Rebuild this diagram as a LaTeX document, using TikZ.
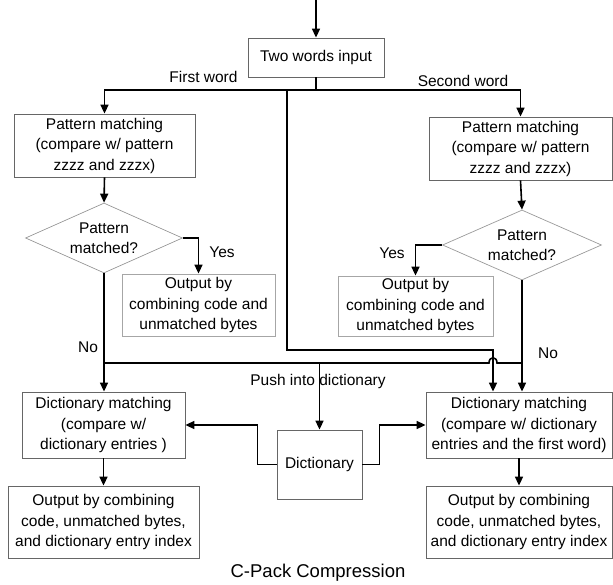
\documentclass[tikz,border=0pt]{standalone}
\usepackage{fontspec}
\setmainfont{Liberation Sans}
\usetikzlibrary{arrows.meta,shapes.geometric}
\begin{document}
\begin{tikzpicture}[x=1pt,y=-1pt,
  txt/.style={font=\fontsize{15.5}{20.5}\selectfont},
  box/.style={txt, draw=black!60, line width=0.8pt, rectangle, inner sep=0pt, align=center},
  ybox/.style={box, draw=black!35},
  dia/.style={txt, draw=black!40, line width=0.7pt, diamond, inner sep=0pt, align=center, aspect=2.24, minimum width=157pt, minimum height=70pt},
  lbl/.style={txt, inner sep=0pt},
  conn/.style={line width=1.6pt, draw=black},
  arr/.style={conn, -{Triangle[length=9pt,width=8pt]}}]
\useasboundingbox (0,0) rectangle (613,585);
% nodes
\coordinate (top) at (316,0);
\node[box, minimum width=136pt, minimum height=39pt] (inp) at (316,57.5) {Two words input};
\node[box, minimum width=181pt, minimum height=63pt] (pml) at (104.5,145.5) {Pattern matching\\(compare w/ pattern\\zzzz and zzzx)};
\node[box, minimum width=183pt, minimum height=63pt] (pmr) at (520.5,148.5) {Pattern matching\\(compare w/ pattern\\zzzz and zzzx)};
\node[dia] (dml) at (104,238) {Pattern\\matched?};
\node[dia, minimum width=159pt] (dmr) at (522,245) {Pattern\\matched?};
\node[ybox, minimum width=153pt, minimum height=62pt] (yl) at (198.5,305) {Output by\\combining code and\\unmatched bytes};
\node[ybox, minimum width=155pt, minimum height=60pt] (yr) at (415.5,306) {Output by\\combining code and\\unmatched bytes};
\node[box, minimum width=163pt, minimum height=66pt] (dicl) at (103.5,425) {Dictionary matching\\(compare w/\\dictionary entries )};
\node[box, minimum width=186pt, minimum height=66pt] (dicr) at (519,425) {Dictionary matching\\(compare w/ dictionary\\entries and the first word)};
\node[box, minimum width=85pt, minimum height=69pt] (dict) at (319.5,464.5) {Dictionary};
\node[box, minimum width=191pt, minimum height=72pt] (outl) at (103.5,522) {Output by combining\\code, unmatched bytes,\\and dictionary entry index};
\node[box, minimum width=186pt, minimum height=72pt] (outr) at (519,522) {Output by combining\\code, unmatched bytes,\\and dictionary entry index};
\node[font=\fontsize{18.5}{22}\selectfont, inner sep=0pt] (title) at (318,573) {C-Pack Compression};
% labels
\node[lbl] (fwl) at (203.5,77) {First word};
\node[lbl] (swl) at (463,81) {Second word};
\node[lbl] (yesl) at (222,252) {Yes};
\node[lbl] (yesr) at (392,253) {Yes};
\node[lbl] (nol) at (88,347) {No};
\node[lbl] (nor) at (548,353) {No};
\node[lbl] (pushl) at (318,381) {Push into dictionary};
% coordinates
\coordinate (split) at (316,90);
\coordinate (fw1) at (287,90);
\coordinate (fw2) at (493,350);
\coordinate (nl) at (104,363);
\coordinate (nr) at (522,363);
\coordinate (hopa) at (489,363);
\coordinate (hopb) at (497,363);
\coordinate (push) at (319.5,363);
% connectors
\draw[arr] (top) -- (inp.north);
\draw[conn] (inp.south) -- (split);
\draw[arr] (split) -| (pml.north);
\draw[arr] (split) -| (pmr.north);
\draw[arr] (fw1) |- (fw2) -- (fw2 |- dicr.north);
\draw[arr] (pml.south) -- (dml.north);
\draw[arr] (pmr.south) -- (dmr.north);
\draw[arr] (dml.east) -| (yl.north);
\draw[arr] (dmr.west) -| (yr.north);
\draw[arr] (dml.south) -- (dml.south |- dicl.north);
\draw[arr] (dmr.south) -- (dmr.south |- dicr.north);
\draw[conn] (nl) -- (hopa) .. controls (489,356) and (497,356) .. (hopb) -- (nr);
\draw[arr] (push) -- (dict.north);
\draw[arr] (dict.west) -- ++(-19,0) |- (dicl.east);
\draw[arr] (dict.east) -- ++(17,0) |- (dicr.west);
\draw[arr] (dicl.south) -- (outl.north);
\draw[arr] (dicr.south) -- (outr.north);
\end{tikzpicture}
\end{document}
